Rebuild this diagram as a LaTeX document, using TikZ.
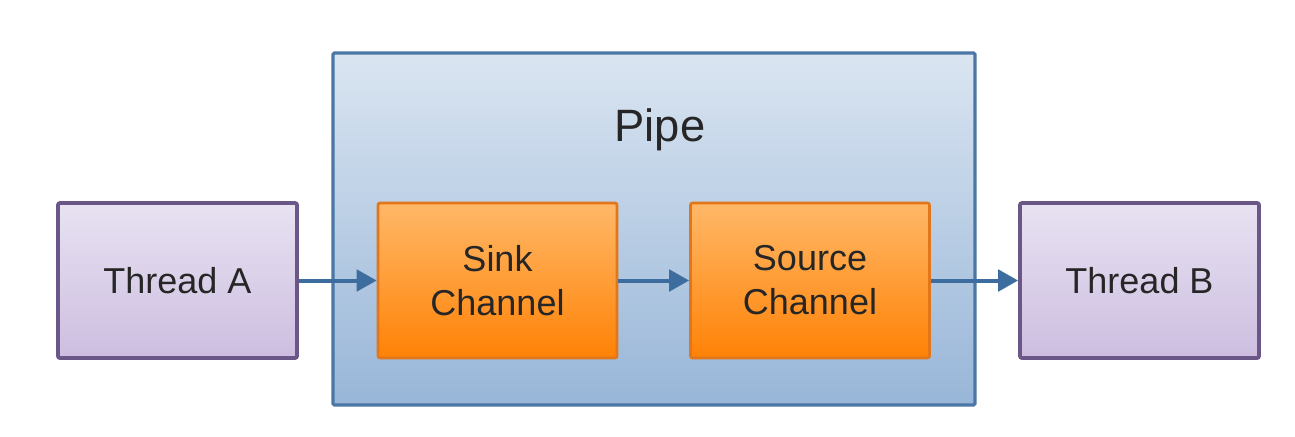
\documentclass[tikz,border=0pt]{standalone}
\usepackage{fontspec}
\setmainfont{Liberation Sans}
\usetikzlibrary{arrows.meta}
\definecolor{thrTop}{HTML}{E8E2F2}
\definecolor{thrBot}{HTML}{CDBEE0}
\definecolor{thrLine}{HTML}{6A5787}
\definecolor{pipeTop}{HTML}{DAE5F1}
\definecolor{pipeBot}{HTML}{98B6D8}
\definecolor{pipeLine}{HTML}{4A77A6}
\definecolor{orTop}{HTML}{FFB868}
\definecolor{orBot}{HTML}{FF8206}
\definecolor{orLine}{HTML}{E2761A}
\definecolor{arrowCol}{HTML}{3D6D9E}
\tikzset{
  threadbox/.style={draw=thrLine, line width=2.8pt, top color=thrTop, bottom color=thrBot, rounded corners=1.5pt,
    minimum width=239*0.75pt, minimum height=155*0.75pt, inner sep=0pt, font=\fontsize{27}{32}\selectfont, text=black!85},
  chanbox/.style={draw=orLine, line width=2pt, top color=orTop, bottom color=orBot, rounded corners=1.5pt,
    minimum width=239*0.75pt, minimum height=155*0.75pt, inner sep=0pt, align=center, font=\fontsize{27}{33}\selectfont, text=black!85},
  pipebox/.style={draw=pipeLine, line width=2.4pt, top color=pipeTop, bottom color=pipeBot, rounded corners=1pt,
    minimum width=642*0.75pt, minimum height=352*0.75pt, inner sep=0pt},
  flow/.style={draw=arrowCol, line width=3pt, -{Triangle[length=15pt,width=16pt]}}
}
\begin{document}
\begin{tikzpicture}[x=0.75pt,y=-0.75pt]
\useasboundingbox (0,0) rectangle (1295,436);
\node[pipebox] (pipe) at (654,229) {};
\node[font=\fontsize{34}{40}\selectfont, text=black!85] (pipelabel) at (660,130) {Pipe};
\node[threadbox] (ta) at (177.5,280.5) {Thread A};
\node[chanbox] (sink) at (497.5,280.5) {Sink\\Channel};
\node[chanbox] (source) at (810,280.5) {Source\\Channel};
\node[threadbox] (tb) at (1139.5,280.5) {Thread B};
\draw[flow] (ta.east) -- (sink.west);
\draw[flow] (sink.east) -- (source.west);
\draw[flow] (source.east) -- (tb.west);
\end{tikzpicture}
\end{document}
